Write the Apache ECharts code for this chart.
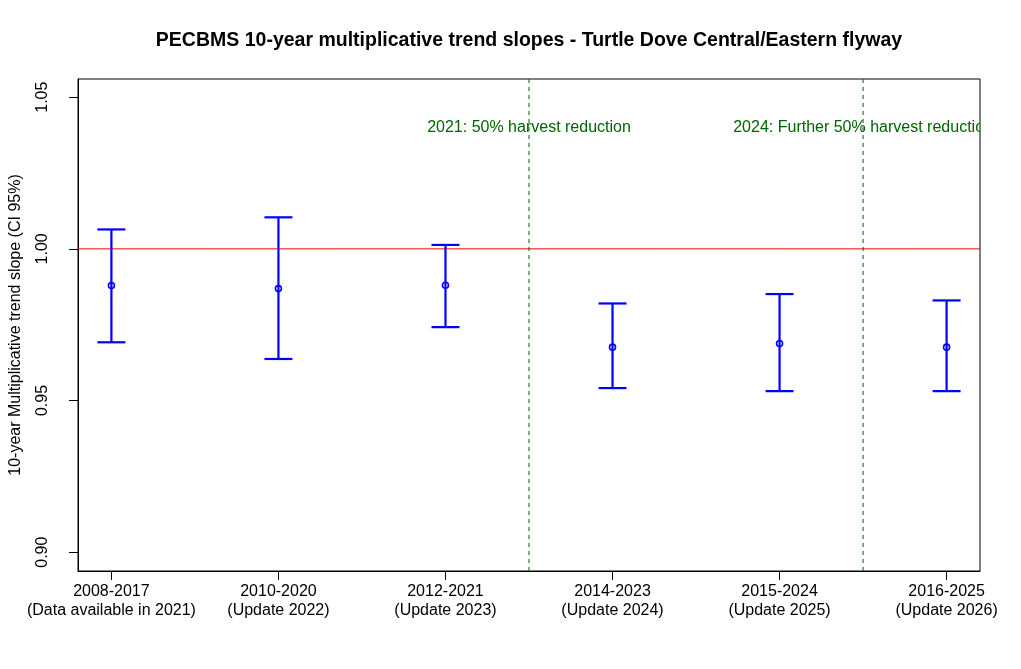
<!DOCTYPE html>
<html>
<head>
<meta charset="utf-8">
<script src="https://cdn.jsdelivr.net/npm/echarts@6/dist/echarts.min.js"></script>
<style>
html,body{margin:0;padding:0;background:#fff;}
#chart{width:1021px;height:669px;}
</style>
</head>
<body>
<div id="chart"></div>
<script>
const chartTitle = 'PECBMS 10-year multiplicative trend slopes - Turtle Dove Central/Eastern flyway';
const yAxisTitle = '10-year Multiplicative trend slope (CI 95%)';
const categories = [
  '2008-2017\n(Data available in 2021)',
  '2010-2020\n(Update 2022)',
  '2012-2021\n(Update 2023)',
  '2014-2023\n(Update 2024)',
  '2015-2024\n(Update 2025)',
  '2016-2025\n(Update 2026)'
];
const slope = [0.9879, 0.9869, 0.9880, 0.9676, 0.9688, 0.9676];
const lower = [0.9692, 0.9637, 0.9742, 0.9541, 0.9531, 0.9531];
const upper = [1.0064, 1.0104, 1.0013, 0.9820, 0.9851, 0.9830];
const yTicks = [0.90, 0.95, 1.00, 1.05];
const xTicks = [1, 2, 3, 4, 5, 6];
const eventX = [3.5, 5.5];
const eventLabels = ['2021: 50% harvest reduction', '2024: Further 50% harvest reduction'];
const eventLabelY = 1.04;
const refValue = 1.0;

const X_MIN = 0.8, X_MAX = 6.2, Y_MIN = 0.8938, Y_MAX = 1.056;
const FONT = '"Liberation Sans", Arial, sans-serif';
const chart = echarts.init(document.getElementById('chart'), null, {renderer: 'canvas'});

const barData = categories.map((c, i) => [xTicks[i], lower[i], slope[i], upper[i]]);
const eventData = eventX.map((x, i) => [x, i]);

const eventLineSeries = eventX.map(x => ({
  type: 'line',
  silent: true,
  symbol: 'none',
  data: [[x, Y_MIN], [x, Y_MAX]],
  lineStyle: {color: '#006400', width: 1, type: [4, 4]},
  itemStyle: {color: '#006400'},
  z: 2
}));

const option = {
  backgroundColor: '#ffffff',
  animation: false,
  graphic: [{
    type: 'text',
    x: 529, y: 41,
    style: {
      text: chartTitle,
      font: 'bold 19.5px ' + FONT,
      fill: '#000',
      textAlign: 'center',
      textVerticalAlign: 'middle',
      verticalAlign: 'middle'
    }
  }],
  grid: {
    left: 78, right: 41, top: 79, bottom: 98,
    show: true, borderColor: '#000', borderWidth: 1, backgroundColor: 'transparent'
  },
  xAxis: {
    type: 'value', min: X_MIN, max: X_MAX,
    splitLine: {show: false},
    axisLine: {show: true, lineStyle: {color: '#000', width: 1}},
    axisTick: {show: true, customValues: xTicks, length: 9, lineStyle: {color: '#000'}},
    axisLabel: {
      customValues: xTicks,
      formatter: v => categories[Math.round(v) - 1] || '',
      fontFamily: FONT, fontSize: 16, color: '#000', lineHeight: 19, margin: 11
    }
  },
  yAxis: {
    type: 'value', min: Y_MIN, max: Y_MAX,
    splitLine: {show: false},
    axisLine: {show: true, lineStyle: {color: '#000', width: 1}},
    axisTick: {show: true, customValues: yTicks, length: 9, lineStyle: {color: '#000'}},
    axisLabel: {
      customValues: yTicks,
      formatter: v => v.toFixed(2),
      rotate: 90, margin: 27,
      fontFamily: FONT, fontSize: 16, color: '#000'
    },
    name: yAxisTitle,
    nameLocation: 'middle',
    nameGap: 54,
    nameRotate: 90,
    nameTextStyle: {fontFamily: FONT, fontSize: 16, color: '#000'}
  },
  series: [
    {
      type: 'line',
      silent: true,
      symbol: 'none',
      data: [[X_MIN, refValue], [X_MAX, refValue]],
      lineStyle: {color: '#ff0000', width: 1, type: 'solid'},
      itemStyle: {color: '#ff0000'},
      z: 2
    },
    ...eventLineSeries,
    {
      type: 'custom',
      clip: true,
      silent: true,
      data: eventData,
      encode: {x: 0, y: 1},
      renderItem: function (params, api) {
        const x = api.value(0);
        const idx = api.value(1);
        const p = api.coord([x, eventLabelY]);
        return {
          type: 'text',
          x: p[0], y: p[1],
          style: {
            text: eventLabels[idx],
            font: '16px ' + FONT,
            fill: '#006400',
            textAlign: 'center',
            textVerticalAlign: 'middle',
            verticalAlign: 'middle'
          }
        };
      },
      z: 2
    },
    {
      type: 'custom',
      silent: true,
      data: barData,
      encode: {x: 0, y: [1, 2, 3]},
      renderItem: function (params, api) {
        const x = api.value(0);
        const lo = api.coord([x, api.value(1)]);
        const mid = api.coord([x, api.value(2)]);
        const hi = api.coord([x, api.value(3)]);
        const cap = 14;
        const st = {stroke: '#0000ff', lineWidth: 2.2, fill: null};
        return {
          type: 'group',
          children: [
            {type: 'line', shape: {x1: lo[0], y1: lo[1], x2: hi[0], y2: hi[1]}, style: st},
            {type: 'line', shape: {x1: hi[0] - cap, y1: hi[1], x2: hi[0] + cap, y2: hi[1]}, style: st},
            {type: 'line', shape: {x1: lo[0] - cap, y1: lo[1], x2: lo[0] + cap, y2: lo[1]}, style: st},
            {type: 'circle', shape: {cx: mid[0], cy: mid[1], r: 3}, style: {stroke: '#0000ff', lineWidth: 1.6, fill: null}}
          ]
        };
      },
      z: 3
    }
  ]
};
chart.setOption(option);
</script>
</body>
</html>
